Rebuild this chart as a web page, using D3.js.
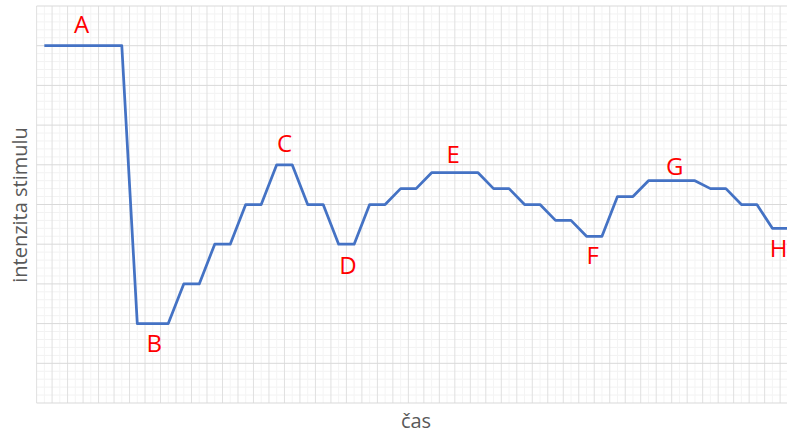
<!DOCTYPE html>
<html><head><meta charset="utf-8">
<script src="https://cdn.jsdelivr.net/npm/d3@7"></script>
<style>body{margin:0;background:#fff}svg{display:block}</style>
</head><body>
<script>
// ---- data ----
const categories = d3.range(0, 49); // time steps
const values = [45,45,45,45,45,45,10,10,10,15,15,20,20,25,25,30,30,25,25,20,20,25,25,27,27,29,29,29,29,27,27,25,25,23,23,21,21,26,26,28,28,28,28,27,27,25,25,22,22];
const labelTexts = ["A","B","C","D","E","F","G","H"];
const labelX = [2.4, 7.1, 15.5, 19.6, 26.4, 35.4, 40.7, 47.4];
const labelY = [46.6, 6.4, 31.6, 16.2, 30.2, 17.5, 28.7, 18.4];
const xTitle = "čas";
const yTitle = "intenzita stimulu";

const W = 787, H = 434;
const svg = d3.select("body").append("svg").attr("width", W).attr("height", H);

const step = 15.49;
const x = d3.scaleLinear().domain([-0.5, 48.5]).range([36.6, 36.6 + 49 * step]);
const y = d3.scaleLinear().domain([0, 50]).range([403, 6]);
const xRight = W;

const grid = svg.append("g");
// minor horizontal
grid.selectAll(".hmin").data(d3.range(0, 51).filter(d => d % 5 !== 0)).join("line")
  .attr("x1", x(-0.5)).attr("x2", xRight).attr("y1", d => y(d)).attr("y2", d => y(d))
  .attr("stroke", "#f2f2f2").attr("stroke-width", 1);
// minor vertical
grid.selectAll(".vmin").data(d3.range(0, 49)).join("line")
  .attr("x1", d => x(d)).attr("x2", d => x(d)).attr("y1", y(50)).attr("y2", y(0))
  .attr("stroke", "#f4f4f4").attr("stroke-width", 1);
// major vertical
grid.selectAll(".vmaj").data(d3.range(-0.5, 49, 1)).join("line")
  .attr("x1", d => x(d)).attr("x2", d => x(d)).attr("y1", y(50)).attr("y2", y(0))
  .attr("stroke", "#e0e0e0").attr("stroke-width", 1);
// major horizontal
grid.selectAll(".hmaj").data(d3.range(0, 51, 5)).join("line")
  .attr("x1", x(-0.5)).attr("x2", xRight).attr("y1", d => y(d)).attr("y2", d => y(d))
  .attr("stroke", "#d9d9d9").attr("stroke-width", 1);

// line
const line = d3.line().x((d, i) => x(categories[i])).y(d => y(d));
svg.append("path").datum(values).attr("d", line)
  .attr("fill", "none").attr("stroke", "#4472C4").attr("stroke-width", 2.75)
  .attr("stroke-linejoin", "round");

// annotations
svg.append("g").selectAll("text").data(labelTexts).join("text")
  .attr("x", (d, i) => x(labelX[i])).attr("y", (d, i) => y(labelY[i]))
  .attr("text-anchor", "middle")
  .attr("font-family", "'Open Sans', 'Noto Sans', sans-serif").attr("font-size", 24)
  .attr("fill", "#ff0000").text(d => d);

// axis titles
svg.append("text").attr("x", 416).attr("y", 428).attr("text-anchor", "middle")
  .attr("font-family", "'Open Sans', 'Noto Sans', sans-serif").attr("font-size", 20)
  .attr("fill", "#595959").text(xTitle);
svg.append("text").attr("transform", "translate(27,205) rotate(-90)").attr("text-anchor", "middle")
  .attr("font-family", "'Open Sans', 'Noto Sans', sans-serif").attr("font-size", 20)
  .attr("fill", "#595959").text(yTitle);
</script>
</body></html>
